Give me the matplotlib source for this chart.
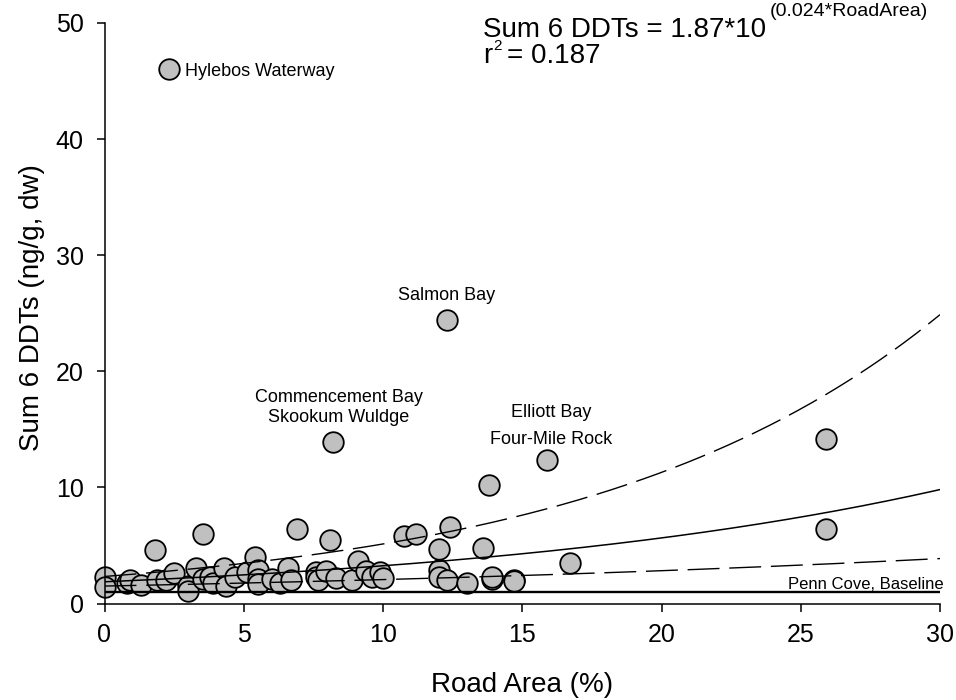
import numpy as np
import matplotlib
matplotlib.use("Agg")
import matplotlib.pyplot as plt

# ---------------- data ----------------
road_area = [0.0, 0.0, 0.8, 0.9, 1.3, 1.8, 1.9, 2.2, 2.5, 3.0, 3.0, 3.3, 3.55, 3.55,
             3.8, 3.9, 4.3, 4.35, 4.7, 5.1, 5.4, 5.5, 5.5, 5.5, 6.0, 6.3, 6.6, 6.7,
             6.9, 7.6, 7.6, 7.65, 7.95, 8.1, 8.2, 8.3, 8.9, 9.1, 9.4, 9.6, 9.9, 10.0,
             10.75, 11.2, 12.0, 12.0, 12.0, 12.3, 12.3, 12.4, 13.0, 13.6, 13.8, 13.9,
             13.9, 14.7, 14.7, 15.9, 16.7, 25.9, 25.9, 2.3]
sum_ddt = [2.3, 1.45, 1.8, 2.05, 1.6, 4.6, 2.0, 2.0, 2.6, 1.55, 1.1, 3.1, 6.0, 2.1,
           2.3, 1.8, 3.1, 1.55, 2.25, 2.7, 4.0, 2.85, 2.1, 1.7, 2.15, 1.8, 3.1, 2.0,
           6.4, 2.7, 2.3, 2.0, 2.8, 5.5, 13.9, 2.2, 2.0, 3.7, 2.8, 2.25, 2.7, 2.2,
           5.85, 6.0, 4.7, 2.85, 2.25, 2.05, 24.4, 6.6, 1.8, 4.8, 10.2, 2.15,
           2.3, 2.0, 1.9, 12.4, 3.5, 14.2, 6.45, 46.0]

# regression (from the equation printed on the chart) and its dashed band
fit_a = 1.87
fit_b = 0.024
band_log_halfwidth0 = 0.095
band_log_halfwidth_slope = 0.0103
baseline_value = 1.0

x_ticks = [0, 5, 10, 15, 20, 25, 30]
y_ticks = [0, 10, 20, 30, 40, 50]

# ---------------- style ----------------
plt.rcParams['font.family'] = ['Liberation Sans', 'DejaVu Sans']

W, H = 956, 700
fig = plt.figure(figsize=(W / 100, H / 100), dpi=100)
x0px, x1px, y0px, y1px = 104.5, 940.0, 603.5, 23.0
ax = fig.add_axes([x0px / W, 1 - y0px / H, (x1px - x0px) / W, (y0px - y1px) / H])
ax.set_xlim(0, 30)
ax.set_ylim(0, 50)

xs = np.linspace(0, 30, 301)
fit = fit_a * 10 ** (fit_b * xs)
hw = band_log_halfwidth0 + band_log_halfwidth_slope * xs

ax.plot(road_area, sum_ddt, 'o', ms=14.8, mfc='#c0c0c0', mec='black', mew=1.3,
        clip_on=False, zorder=2)
ax.plot(xs, fit, color='black', lw=1.1, zorder=3)
ax.plot(xs, fit * 10 ** hw, color='black', lw=1.0, dashes=(23, 7), zorder=3)
ax.plot(xs, fit / 10 ** hw, color='black', lw=1.0, dashes=(23, 7), zorder=3)
ax.plot([0, 30], [baseline_value, baseline_value], color='black', lw=1.7, zorder=3,
        solid_capstyle='butt')

ax.annotate('Penn Cove, Baseline', xy=(30, baseline_value), xycoords='data',
            xytext=(2.5, 2.2), textcoords='offset points', ha='right', va='baseline',
            fontsize=12)

# point labels
lab_fs = 13
ax.annotate('Hylebos Waterway', xy=(2.3, 46.0), xytext=(12, -5), textcoords='offset points',
            ha='left', va='baseline', fontsize=lab_fs)
ax.annotate('Salmon Bay', xy=(12.3, 24.4), xytext=(0, 14.5), textcoords='offset points',
            ha='center', va='baseline', fontsize=lab_fs)
ax.annotate('Commencement Bay', xy=(8.2, 13.9), xytext=(4.5, 28.8), textcoords='offset points',
            ha='center', va='baseline', fontsize=lab_fs)
ax.annotate('Skookum Wuldge', xy=(8.2, 13.9), xytext=(4, 14.4), textcoords='offset points',
            ha='center', va='baseline', fontsize=lab_fs)
ax.annotate('Elliott Bay', xy=(15.9, 12.4), xytext=(2.5, 30.5), textcoords='offset points',
            ha='center', va='baseline', fontsize=lab_fs)
ax.annotate('Four-Mile Rock', xy=(15.9, 12.4), xytext=(2.5, 11.5), textcoords='offset points',
            ha='center', va='baseline', fontsize=lab_fs)

# axes styling
for s in ['top', 'right']:
    ax.spines[s].set_visible(False)
for s in ['left', 'bottom']:
    ax.spines[s].set_linewidth(1.1)
ax.set_xticks(x_ticks)
ax.set_yticks(y_ticks)
ax.tick_params(axis='both', direction='out', length=6, width=1.1, labelsize=18)
ax.tick_params(axis='x', pad=8)
ax.tick_params(axis='y', pad=9)

ax.set_xlabel('Road Area (%)', fontsize=20)
ax.set_ylabel('Sum 6 DDTs (ng/g, dw)', fontsize=20)
ax.xaxis.set_label_coords(0.5, -0.118)
ax.yaxis.set_label_coords(-0.071, 0.51)

# equation text
t1 = fig.text(483 / W, 1 - 37 / H, 'Sum 6 DDTs = 1.87*10', fontsize=20, va='baseline')
t2 = fig.text(483 / W, 1 - 63 / H, 'r', fontsize=20, va='baseline')
fig.canvas.draw()
bb1 = t1.get_window_extent()
fig.text((bb1.x1 + 4) / W, 1 - 16 / H, '(0.024*RoadArea)', fontsize=14, va='baseline')
bb2 = t2.get_window_extent()
t3 = fig.text((bb2.x1 + 1) / W, 1 - 50 / H, '2', fontsize=11, va='baseline')
fig.canvas.draw()
bb3 = t3.get_window_extent()
fig.text((bb3.x1 + 5) / W, 1 - 63 / H, '= 0.187', fontsize=20, va='baseline')

fig.savefig('out.png', dpi=100)
